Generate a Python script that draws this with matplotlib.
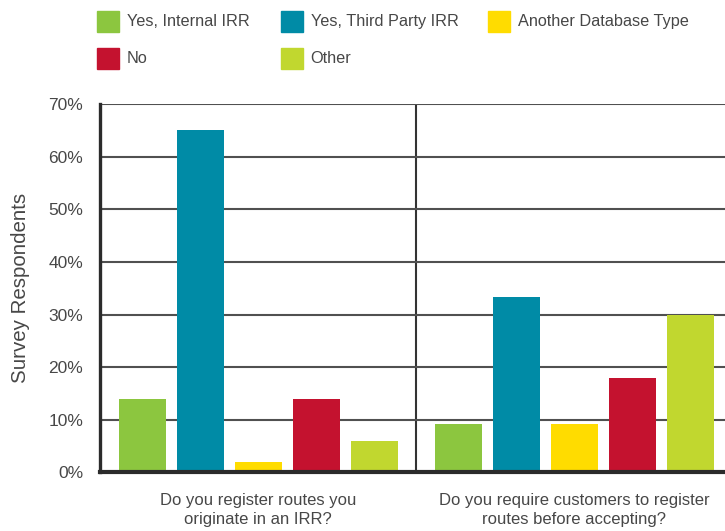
import numpy as np
import matplotlib.pyplot as plt
from matplotlib.patches import Rectangle

plt.rcParams['font.family'] = ['Liberation Sans', 'DejaVu Sans']

questions = ["Do you register routes you\noriginate in an IRR?",
             "Do you require customers to register\nroutes before accepting?"]
answers = ["Yes, Internal IRR", "Yes, Third Party IRR", "Another Database Type", "No", "Other"]
colors = ["#8cc63f", "#008ba6", "#ffdc00", "#c4122f", "#c1d72f"]

internal_irr = [14, 9.2]
third_party_irr = [65, 33.4]
another_db = [2, 9.2]
no_irr = [14, 17.9]
other = [6, 29.9]
series = [internal_irr, third_party_irr, another_db, no_irr, other]

yticks = [0, 10, 20, 30, 40, 50, 60, 70]
text_col = "#474747"
grid_col = "#505050"

fig = plt.figure(figsize=(7.25, 5.31), dpi=100)
ax = fig.add_axes([0.1379, 0.1102, 0.8717, 0.694])

# five bars per question, each question occupies one unit on x
offsets = (np.arange(len(answers)) - 2) * 0.184
centers = np.arange(len(questions)) + 0.502
for vals, off, c in zip(series, offsets, colors):
    ax.bar(centers + off, vals, width=0.149, color=c, zorder=3)

ax.set_xlim(0, 2)
ax.set_ylim(0, 70)
ax.set_yticks(yticks)
ax.set_yticklabels([f"{t}%" for t in yticks], fontsize=12.5, color=text_col)
ax.tick_params(axis='y', length=0, pad=12)
ax.set_xticks(np.arange(len(questions)) + 0.5)
ax.set_xticklabels(questions, fontsize=12, color=text_col, linespacing=1.3)
ax.tick_params(axis='x', length=0, pad=15)
ax.set_ylabel("Survey Respondents", fontsize=14.8, color=text_col, labelpad=13)

ax.grid(axis='y', color=grid_col, linewidth=1.5, zorder=0)
ax.axvline(1, color="#333333", linewidth=1.5, zorder=1)
for s in ['top', 'right']:
    ax.spines[s].set_visible(False)
ax.spines['left'].set_linewidth(2.4)
ax.spines['left'].set_color("#2b2b2b")
ax.spines['bottom'].set_linewidth(3)
ax.spines['bottom'].set_color("#2b2b2b")
ax.spines['bottom'].set_zorder(4)

# legend laid out in two rows at the top
leg_x = [0.1338, 0.3876, 0.6731, 0.1338, 0.3876]
leg_y = [0.959, 0.959, 0.959, 0.890, 0.890]
for name, c, lx, ly in zip(answers, colors, leg_x, leg_y):
    fig.add_artist(Rectangle((lx, ly - 0.0198), 0.0303, 0.0396, color=c,
                             transform=fig.transFigure))
    fig.text(lx + 0.041, ly, name, fontsize=11.7, color=text_col, va='center')

fig.savefig("out.png", dpi=100)
